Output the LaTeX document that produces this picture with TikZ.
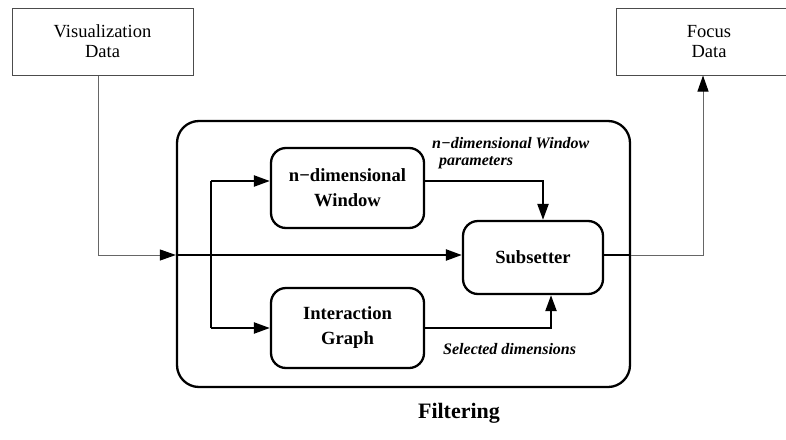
\documentclass[tikz,border=0pt]{standalone}
\usepackage{fontspec}
\setmainfont{Liberation Serif}
\usetikzlibrary{arrows.meta}
\begin{document}
\begin{tikzpicture}[x=1pt,y=-1pt,
  databox/.style={draw=black!70, line width=1pt, inner sep=0pt, font=\fontsize{18.5}{20}\selectfont, align=center},
  procbox/.style={draw, line width=2.3pt, rounded corners=15pt, inner sep=0pt, font=\bfseries\fontsize{18.6}{25}\selectfont, align=center},
  thinline/.style={draw=black!60, line width=1pt},
  thickline/.style={line width=2.3pt},
  tip/.style={-{Triangle[length=16pt,width=11pt,color=black]}},
  lbl/.style={font=\bfseries\itshape\fontsize{16}{20}\selectfont, inner sep=0pt, anchor=west}
]
\useasboundingbox (0,0) rectangle (786,439);
% data boxes
\node[databox, minimum width=181pt, minimum height=67pt] (vis) at (102.5,41.5) {Visualization\\Data};
\node[databox, minimum width=186pt, minimum height=67pt] (focus) at (709,41.5) {Focus\\Data};
% outer filtering box
\node[draw, line width=2.3pt, rounded corners=22pt, minimum width=453pt, minimum height=266pt, inner sep=0pt] (filt) at (403.5,254) {};
% process boxes
\node[procbox, minimum width=153pt, minimum height=80pt] (win) at (347.5,188) {n−dimensional\\Window};
\node[procbox, minimum width=153pt, minimum height=80pt] (ig) at (347.5,328) {Interaction\\Graph};
\node[procbox, minimum width=140pt, minimum height=73pt] (sub) at (533,257.5) {Subsetter};
% labels
\node[lbl] (l1) at (432,143) {n−dimensional Window};
\node[lbl] (l2) at (439,163) {parameters};
\node[lbl] (l3) at (443,349) {Selected dimensions};
\node[font=\bfseries\fontsize{22}{26}\selectfont, inner sep=0pt] (title) at (459,413) {Filtering};
% helper coordinates
\coordinate (main) at (0,255);
\coordinate (wy) at (0,181);
\coordinate (br) at (211,0);
\coordinate (c1) at (543,0);
\coordinate (c2) at (551,0);
\coordinate (c3) at (703,0);
\coordinate (c0) at (98,0);
% connectors
\draw[thinline,tip] (c0 |- vis.south) |- (filt.west |- main);
\draw[thickline,tip] (filt.west |- main) -- (sub.west |- main);
\draw[thickline] (br |- wy) -- (br |- ig.west);
\draw[thickline,tip] (br |- wy) -- (win.west |- wy);
\draw[thickline,tip] (br |- ig.west) -- (ig.west);
\draw[thickline,tip] (win.east |- wy) -| (c1 |- sub.north);
\draw[thickline,tip] (ig.east) -| (c2 |- sub.south);
\draw[thickline] (sub.east |- main) -- (filt.east |- main);
\draw[thinline,tip] (filt.east |- main) -| (c3 |- focus.south);
\end{tikzpicture}
\end{document}
